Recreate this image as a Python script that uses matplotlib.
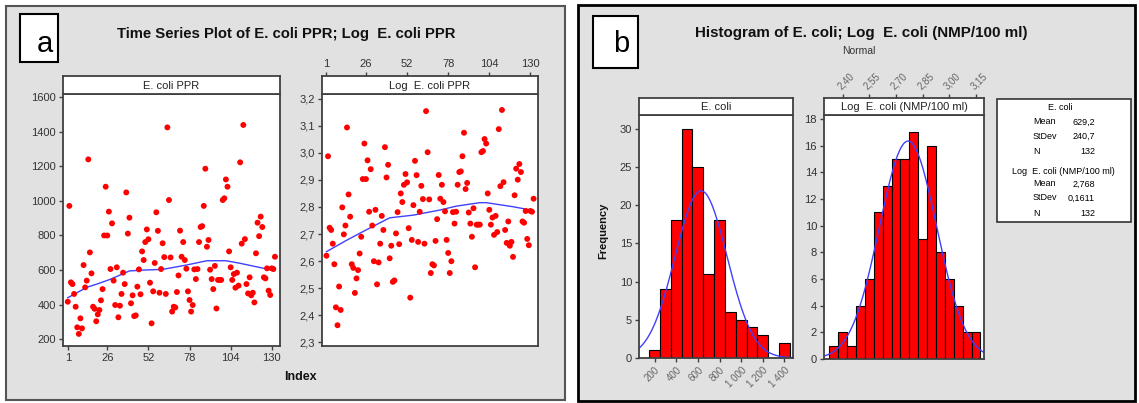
import numpy as np
import matplotlib.pyplot as plt
from matplotlib.patches import Rectangle
from matplotlib.ticker import FuncFormatter

plt.rcParams['font.family'] = ['Liberation Sans', 'DejaVu Sans']

# E. coli PPR, time series (index 1..132)
ecoli_ppr = [417, 971, 529, 519, 462, 388, 269, 231, 321, 263, 629, 500, 539, 1240,
             702, 581, 388, 376, 304, 344, 369, 425, 490, 800, 1082, 800, 938, 606,
             870, 539, 398, 616, 327, 394, 462, 585, 519, 1049, 811, 903, 408, 454,
             334, 338, 504, 604, 460, 708, 658, 762, 835, 778, 527, 292, 477, 641,
             934, 827, 469, 606, 755, 675, 462, 1425, 1005, 673, 360, 388, 384, 473,
             569, 828, 677, 762, 658, 608, 477, 427, 360, 398, 604, 548, 606, 762,
             849, 854, 971, 1186, 735, 774, 602, 548, 490, 624, 378, 543, 543, 543,
             1005, 1015, 1124, 1082, 708, 616, 543, 577, 498, 585, 510, 1223, 753,
             1439, 779, 519, 465, 558, 454, 469, 413, 697, 874, 796, 909, 849, 558,
             552, 610, 481, 456, 610, 606, 677]

# smoothed trend lines
trend_idx = [1, 13, 21, 28, 40, 49, 61, 76, 89, 101, 110, 125, 130]
trend_ppr = [440, 500, 524, 547, 595, 600, 604, 629, 654, 654, 639, 610, 604]
trend_log_idx = [1, 14, 26, 41, 56, 73, 83, 98, 102, 119, 130]
trend_log = [2.635, 2.678, 2.715, 2.760, 2.770, 2.789, 2.803, 2.816, 2.816, 2.801, 2.789]

# histogram of E. coli
ecoli_bins = [200, 300, 400, 500, 600, 700, 800, 900, 1000, 1100, 1200, 1300, 1400]
ecoli_counts = [1, 9, 18, 30, 25, 11, 18, 6, 5, 4, 3, 0, 2]
ecoli_mean, ecoli_sd, ecoli_n = 629.2, 240.7, 132

# histogram of Log E. coli
log_bins = [2.35, 2.40, 2.45, 2.50, 2.55, 2.60, 2.65, 2.70, 2.75, 2.80, 2.85,
            2.90, 2.95, 3.00, 3.05, 3.10, 3.15]
log_counts = [1, 2, 1, 4, 6, 11, 13, 15, 15, 17, 9, 16, 8, 6, 4, 2, 2]
log_mean, log_sd, log_n = 2.768, 0.1611, 132

W, H = 1139, 403


def rect(x0, y0, x1, y1):
    return [x0 / W, 1 - y1 / H, (x1 - x0) / W, (y1 - y0) / H]


def box(x0, y0, x1, y1, **kw):
    fig.add_artist(Rectangle((x0 / W, 1 - y1 / H), (x1 - x0) / W, (y1 - y0) / H,
                             transform=fig.transFigure, **kw))


def ftext(x, y, s, **kw):
    fig.text(x / W, 1 - y / H, s, **kw)


def comma(fmt):
    return FuncFormatter(lambda v, p: format(v, fmt).replace('.', ','))


def style(ax, color='#404040'):
    for sp in ax.spines.values():
        sp.set_color(color)
        sp.set_linewidth(1.3)
    ax.tick_params(direction='out', length=3, width=1, color='#404040',
                   labelcolor='#333333', labelsize=8, pad=2)


def strip(x0, y0, x1, y1, label, xlim=None):
    s = fig.add_axes(rect(x0, y0, x1, y1))
    style(s)
    s.set_facecolor('white')
    s.set_yticks([])
    s.text(0.5, 0.45, label, transform=s.transAxes, ha='center', va='center',
           fontsize=8, color='#222222')
    if xlim is None:
        s.set_xticks([])
    else:
        s.set_xlim(*xlim)
        s.xaxis.tick_top()
    return s


fig = plt.figure(figsize=(W / 100, H / 100), dpi=100)
fig.patch.set_facecolor('white')

# panel frames (behind the axes)
box(6, 6, 565, 400, facecolor='#e1e1e1', edgecolor='#555555', lw=1.5, zorder=-10)
box(578, 5, 1135, 401, facecolor='#e1e1e1', edgecolor='black', lw=2, zorder=-10)
box(20, 14, 58, 62, facecolor='white', edgecolor='black', lw=1.5)
box(593, 16, 638, 68, facecolor='white', edgecolor='black', lw=1.5)
ftext(45, 44, 'a', fontsize=21, ha='center', va='center')
ftext(621, 44, 'b', fontsize=21, ha='center', va='center')

ftext(286, 34, 'Time Series Plot of E. coli PPR; Log  E. coli PPR',
      fontsize=10.7, fontweight='bold', ha='center', va='center', color='#111111')
ftext(861, 33, 'Histogram of E. coli; Log  E. coli (NMP/100 ml)',
      fontsize=10.9, fontweight='bold', ha='center', va='center', color='#111111')
ftext(859, 51, 'Normal', fontsize=7.5, ha='center', va='center', color='#333333')

idx = np.arange(1, len(ecoli_ppr) + 1)
xt = [1, 26, 52, 78, 104, 130]

# time series: E. coli PPR
ax1 = fig.add_axes(rect(63, 94, 280, 346))
style(ax1)
ax1.scatter(idx, ecoli_ppr, s=18, c='#ff0000', edgecolors='none', zorder=3)
ax1.plot(trend_idx, trend_ppr, color='#4040ff', lw=1, zorder=2)
ax1.set_xlim(-2, 135.2)
ax1.set_ylim(161, 1618)
ax1.set_xticks(xt)
ax1.set_yticks(range(200, 1601, 200))
strip(63, 76, 280, 94, 'E. coli PPR')

# time series: Log E. coli PPR
ax2 = fig.add_axes(rect(322, 94, 538, 346))
style(ax2)
ax2.scatter(idx, np.log10(ecoli_ppr), s=18, c='#ff0000', edgecolors='none', zorder=3)
ax2.plot(trend_log_idx, trend_log, color='#4040ff', lw=1, zorder=2)
ax2.set_xlim(-1.8, 134.8)
ax2.set_ylim(2.287, 3.217)
ax2.set_xticks([])
ax2.set_yticks(np.arange(2.3, 3.21, 0.1))
ax2.yaxis.set_major_formatter(comma('.1f'))
s2 = strip(322, 76, 538, 94, 'Log  E. coli PPR', xlim=(-1.8, 134.8))
s2.set_xticks(xt)

ftext(300, 377, 'Index', fontsize=9, fontweight='bold', ha='center', va='center',
      color='#111111')

# histogram: E. coli
ax3 = fig.add_axes(rect(639, 115, 793, 358))
style(ax3)
ax3.bar(ecoli_bins, ecoli_counts, width=100, color='#ff0000', edgecolor='black', lw=0.8)
xs = np.linspace(55, 1480, 300)
ax3.plot(xs, ecoli_n * 100 / (ecoli_sd * np.sqrt(2 * np.pi))
         * np.exp(-0.5 * ((xs - ecoli_mean) / ecoli_sd) ** 2), color='#4040ff', lw=1)
ax3.set_xlim(55, 1480)
ax3.set_ylim(0, 31.8)
ax3.set_yticks(range(0, 31, 5))
ax3.set_xticks(range(200, 1401, 200))
ax3.set_xticklabels(['200', '400', '600', '800', '1 000', '1 200', '1 400'],
                    rotation=45, ha='right', rotation_mode='anchor',
                    fontsize=7, color='#666666')
strip(639, 98, 793, 115, 'E. coli')
ftext(603, 231, 'Frequency', fontsize=8, fontweight='bold', rotation=90,
      ha='center', va='center', color='#111111')

# histogram: Log E. coli
ax4 = fig.add_axes(rect(824, 115, 984, 359))
style(ax4)
ax4.bar(log_bins, log_counts, width=0.05, color='#ff0000', edgecolor='black', lw=0.8)
xs = np.linspace(2.295, 3.195, 300)
ax4.plot(xs, log_n * 0.05 / (log_sd * np.sqrt(2 * np.pi))
         * np.exp(-0.5 * ((xs - log_mean) / log_sd) ** 2), color='#4040ff', lw=1)
ax4.set_xlim(2.295, 3.195)
ax4.set_ylim(0, 18.3)
ax4.set_xticks([])
ax4.set_yticks(range(0, 19, 2))
s4 = strip(824, 98, 984, 115, 'Log  E. coli (NMP/100 ml)', xlim=(2.295, 3.195))
s4.set_xticks([2.40, 2.55, 2.70, 2.85, 3.00, 3.15])
s4.xaxis.set_major_formatter(comma('.2f'))
plt.setp(s4.get_xticklabels(), rotation=45, ha='left', rotation_mode='anchor',
         fontsize=7, color='#666666')

# statistics box
box(997, 99, 1131, 222, facecolor='white', edgecolor='#333333', lw=1.2)
fs = 6.5
ftext(1060, 107, 'E. coli', fontsize=fs, ha='center', va='center')
ftext(1063, 171, 'Log  E. coli (NMP/100 ml)', fontsize=fs, ha='center', va='center')
rows = [(122, 'Mean', '629,2'), (136, 'StDev', '240,7'), (151, 'N', '132'),
        (184, 'Mean', '2,768'), (198, 'StDev', '0,1611'), (213, 'N', '132')]
for y, k, v in rows:
    ftext(1033, y, k, fontsize=fs, ha='left', va='center')
    ftext(1095, y, v, fontsize=fs, ha='right', va='center')

fig.savefig('out.png', dpi=100)
